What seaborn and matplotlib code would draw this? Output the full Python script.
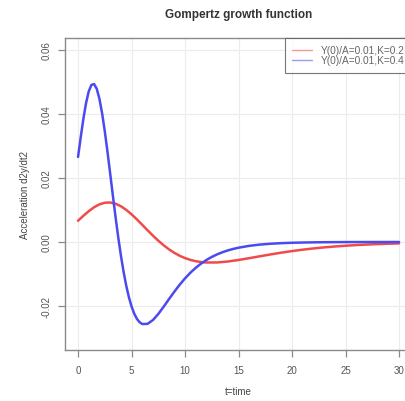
import matplotlib
matplotlib.use("Agg")
import matplotlib.pyplot as plt
import seaborn as sns
import pandas as pd

# ---- data ----
t_blue = [0, 0.25, 0.5, 0.75, 1, 1.25, 1.5, 1.75, 2, 2.25, 2.5, 2.75, 3, 3.25, 3.5, 3.75,
          4, 4.25, 4.5, 4.75, 5, 5.25, 5.5, 5.75, 6, 6.5, 7, 7.5, 8, 8.5, 9, 9.5, 10,
          10.5, 11, 11.5, 12, 12.5, 13, 13.5, 14, 14.5, 15, 16, 17, 18, 19, 20, 21, 22,
          23, 24, 25, 26, 27, 28, 29, 30]
acc_blue = [0.026564, 0.032727, 0.038510, 0.043424, 0.047045, 0.049066, 0.049330, 0.047832,
            0.044704, 0.040183, 0.034576, 0.028221, 0.021458, 0.014600, 0.007916, 0.001621,
            -0.004123, -0.009211, -0.013584, -0.017224, -0.020145, -0.022387, -0.024003,
            -0.025060, -0.025628, -0.025577, -0.024380, -0.022481, -0.020221, -0.017846,
            -0.015519, -0.013338, -0.011358, -0.009600, -0.008066, -0.006744, -0.005617,
            -0.004664, -0.003863, -0.003192, -0.002633, -0.002169, -0.001785, -0.001206,
            -0.000812, -0.000546, -0.000367, -0.000246, -0.000165, -0.000111, -0.0000744,
            -0.0000499, -0.0000334, -0.0000224, -0.0000150, -0.0000101, -0.0000068, -0.0000045]

t_red = [0, 0.5, 1, 1.5, 2, 2.5, 3, 3.5, 4, 4.5, 5, 5.5, 6, 6.5, 7, 7.5, 8, 8.5, 9, 9.5,
         10, 10.5, 11, 11.5, 12, 13, 14, 15, 16, 17, 18, 19, 20, 21, 22, 23, 24, 25, 26,
         27, 28, 29, 30]
acc_red = [0.006641, 0.008182, 0.009628, 0.010856, 0.011761, 0.012267, 0.012333, 0.011958,
           0.011176, 0.010046, 0.008644, 0.007055, 0.005365, 0.003650, 0.001979, 0.000405,
           -0.001031, -0.002303, -0.003396, -0.004306, -0.005036, -0.005597, -0.006001,
           -0.006265, -0.006407, -0.006394, -0.006095, -0.005620, -0.005054, -0.004462,
           -0.003880, -0.003334, -0.002840, -0.002400, -0.002016, -0.001686, -0.001404,
           -0.001166, -0.000966, -0.000798, -0.000658, -0.000542, -0.000446]

label_red = "Y(0)/A=0.01,K=0.2"
label_blue = "Y(0)/A=0.01,K=0.4"
title = "Gompertz growth function"
xlabel = "t=time"
ylabel = "Acceleration d2y/dt2"
xticks = [0, 5, 10, 15, 20, 25, 30]
yticks = [-0.02, 0.00, 0.02, 0.04, 0.06]
ytick_labels = ["-0.02", "0.00", "0.02", "0.04", "0.06"]

sns.set_style("white")
plt.rcParams["font.family"] = ["Liberation Sans", "DejaVu Sans"]

fig = plt.figure(figsize=(4.05, 4.02), dpi=100)
ax = fig.add_axes([0.161, 0.128, 0.856, 0.774])

df_red = pd.DataFrame({"t": t_red, "acc": acc_red})
df_blue = pd.DataFrame({"t": t_blue, "acc": acc_blue})
sns.lineplot(data=df_red, x="t", y="acc", ax=ax, color="#f04a4a", lw=1.8, label=label_red)
sns.lineplot(data=df_blue, x="t", y="acc", ax=ax, color="#4a4af0", lw=1.8, label=label_blue)

ax.set_xlim(-1.2, 31.2)
ax.set_ylim(-0.0336, 0.0636)
ax.set_xticks(xticks)
ax.set_xticklabels([str(v) for v in xticks])
ax.set_yticks(yticks)
ax.set_yticklabels(ytick_labels, rotation=90, va="center")
ax.grid(True, color="#ececec", lw=0.8)

for s in ax.spines.values():
    s.set_color("#8a8a8a")
    s.set_linewidth(1.0)
ax.tick_params(axis="both", direction="out", length=5, width=0.9, color="#8a8a8a",
               labelsize=7, labelcolor="#555555", pad=6, bottom=True, left=True)
ax.tick_params(axis="y", pad=4.5)

ax.set_xlabel(xlabel, fontsize=7, color="#444444", labelpad=8)
ax.set_ylabel(ylabel, fontsize=7, color="#444444", labelpad=9)
fig.text(0.588, 0.962, title, ha="center", va="center", fontsize=8.5, fontweight="bold",
         color="#333333")

leg = ax.legend(loc="upper right", fontsize=7.3, frameon=True, fancybox=False,
                borderaxespad=0, handlelength=2.0, handletextpad=0.9, labelspacing=0.0,
                borderpad=0.7)
leg.get_frame().set_edgecolor("#555555")
leg.get_frame().set_linewidth(0.8)
for h in leg.get_lines():
    h.set_linewidth(1.0)
    h.set_alpha(0.55)
for tx in leg.get_texts():
    tx.set_color("#666666")

fig.savefig("out.png", dpi=100)
